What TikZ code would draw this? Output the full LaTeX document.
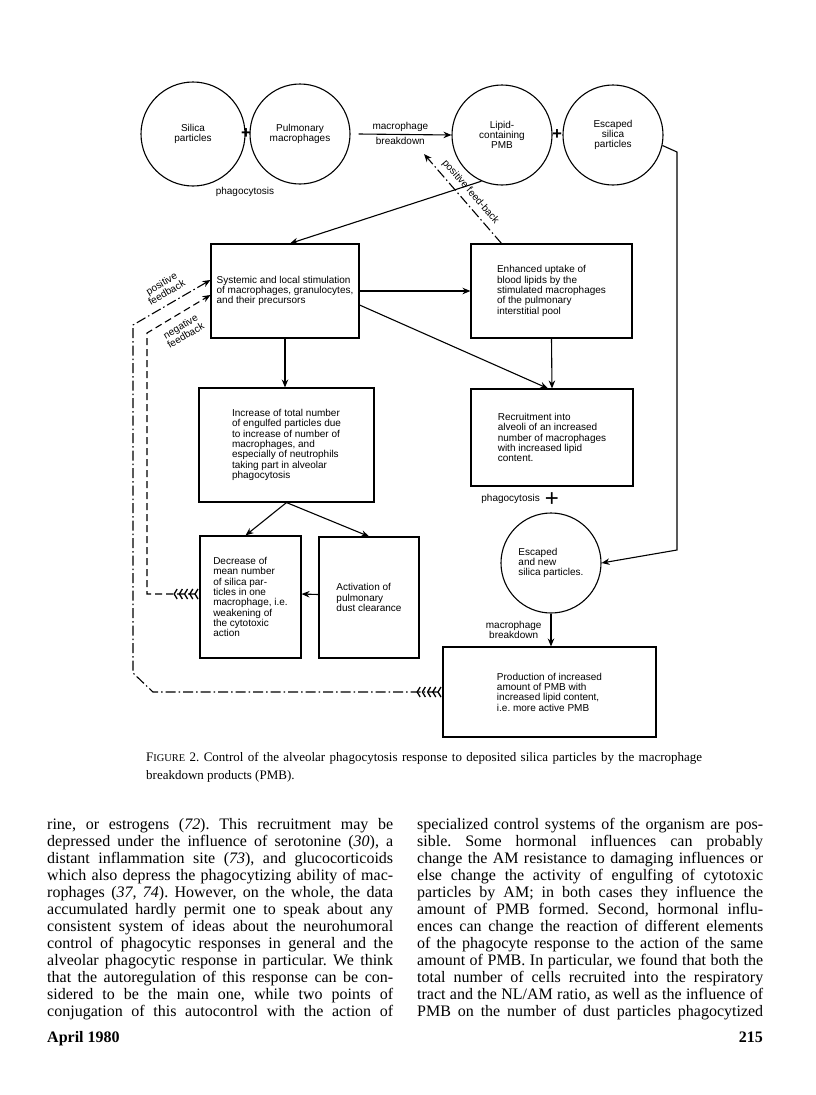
\documentclass[tikz,border=0pt]{standalone}
\usepackage{fontspec}
\setmainfont{Liberation Serif}
\setsansfont{Liberation Sans}
\usetikzlibrary{arrows.meta,positioning,calc}
\newcommand\colline[1]{\hbox to 346pt{#1}}
\frenchspacing

\tikzset{
  diag/.style={font=\sffamily\fontsize{10}{10.3}\selectfont},
  pool/.style={circle, draw, line width=1.1pt, inner sep=0pt, minimum size=100pt, align=center, diag},
  stage/.style={rectangle, draw, line width=1.1pt, inner sep=0pt, align=left, diag},
  flow/.style={line width=1.1pt, -{Stealth[length=8pt,width=6.5pt]}},
  negloop/.style={dash pattern=on 7pt off 4pt},
  posloop/.style={dash pattern=on 10pt off 3pt on 1.5pt off 3pt},
  feathered/.style={arrows={Straight Barb[reversed,length=3pt,width=10pt,sep=0.8pt,line width=1.3pt] Straight Barb[reversed,length=3pt,width=10pt,sep=0.8pt,line width=1.3pt] Straight Barb[reversed,length=3pt,width=10pt,sep=0.8pt,line width=1.3pt] Straight Barb[reversed,length=3pt,width=10pt,sep=0.8pt,line width=1.3pt] Straight Barb[reversed,length=3pt,width=10pt,sep=0.8pt,line width=1.3pt]}-{Stealth[length=8pt,width=6.5pt]}},
  tag/.style={diag, inner sep=1pt, align=center},
  plusmark/.style={font=\sffamily\bfseries\fontsize{17}{17}\selectfont, inner sep=0pt},
  column/.style={anchor=north west, inner sep=0pt, align=left, font=\fontsize{16}{17}\selectfont},
}

\begin{document}
\begin{tikzpicture}[x=1pt,y=-1pt]
\fill[white] (0,0) rectangle (816,1095);
\useasboundingbox (0,0) rectangle (816,1095);

% top row of pools
\node[pool, minimum size=104pt] (silica) at (193,134) {Silica\\particles};
\node[pool] (pulmo) at (300,134) {Pulmonary\\macrophages};
\node[pool] (lipid) at (502,135) {Lipid-\\containing\\PMB};
\node[pool] (escaped) at (613,135) {Escaped\\silica\\particles};
\node[plusmark] (plusA) at (246,134) {+};
\node[plusmark] (plusB) at (557,135) {+};
\node[tag] (phago) at (245,192) {phagocytosis};
\draw[flow] ([xshift=8pt]pulmo.east) -- (lipid.west)
  node[tag, pos=.45, above=1pt] (mbA) {macrophage}
  node[tag, pos=.45, below=1pt] (mbB) {breakdown};

% boxes
\node[stage, minimum width=148pt, minimum height=94pt] (sys) at (285,291) {Systemic and local stimulation\\of macrophages, granulocytes,\\and their precursors};
\node[stage, minimum width=161pt, minimum height=94pt] (uptake) at (551.5,291) {Enhanced uptake of\\blood lipids by the\\stimulated macrophages\\of the pulmonary\\interstitial pool};
\node[stage, minimum width=175pt, minimum height=114pt] (engulf) at (286.5,445) {Increase of total number\\of engulfed particles due\\to increase of number of\\macrophages, and\\especially of neutrophils\\taking part in alveolar\\phagocytosis};
\node[stage, minimum width=162pt, minimum height=97pt] (recruit) at (552,437.5) {Recruitment into\\alveoli of an increased\\number of macrophages\\with increased lipid\\content.};
\node[stage, minimum width=101pt, minimum height=122pt] (decrease) at (250.5,597) {Decrease of\\mean number\\of silica par-\\ticles in one\\macrophage, i.e.\\weakening of\\the cytotoxic\\action};
\node[stage, minimum width=100pt, minimum height=121pt] (clear) at (369,597.5) {Activation of\\pulmonary\\dust clearance};
\node[pool, align=left] (newsil) at (551,563) {Escaped\\and new\\silica particles.};
\node[stage, minimum width=213pt, minimum height=90pt] (product) at (549.5,692) {Production of increased\\amount of PMB with\\increased lipid content,\\i.e. more active PMB};
\node[tag, anchor=east] (phagoB) at (541,499) {phagocytosis};
\node[font=\sffamily\fontsize{24}{24}\selectfont, inner sep=0pt] (plusC) at (552,500) {+};

% arrows
\draw[flow] (lipid.246) -- ([xshift=5pt]sys.north);
\draw[flow] (sys.east) -- (uptake.west);
\draw[flow] ([yshift=-14pt]sys.east) -- ([xshift=-4pt]recruit.north);
\draw[flow] (uptake.south) -- (recruit.north);
\draw[flow] (sys.south) -- (sys.south |- engulf.north);
\draw[flow] (engulf.south) -- ([xshift=-5pt]decrease.north);
\draw[flow] (engulf.south) -- (clear.north);
\draw[flow] ([yshift=3pt]clear.west) -- ([yshift=3pt]decrease.east);
\draw[flow] (newsil.south) -- (newsil.south |- product.north)
  node[tag, pos=.5, left=8pt] (mbC) {macrophage\\breakdown};

\coordinate (bendA) at (677,152);
\coordinate (bendB) at (677,550);
\draw[flow] (escaped.-12) -- (bendA) -- (bendB) -- (newsil.east);

% feedback loops
\coordinate (fbtip) at (424,154);
\draw[flow, posloop] ([xshift=-50pt]uptake.north) -- (fbtip)
  node[tag, pos=.5, rotate=-49, anchor=south, inner sep=5pt] (fbA) {positive feed-back};

\coordinate (negA) at (147,594);
\coordinate (negB) at (147,333);
\draw[flow, negloop, feathered] ([yshift=3pt]decrease.west) -- (negA) -- (negB) -- ([yshift=-4pt]sys.west);

\coordinate (posA) at (153,692);
\coordinate (posB) at (133,673);
\coordinate (posC) at (133,325);
\draw[flow, posloop, feathered] (product.west) -- (posA) -- (posB) -- (posC) -- ([yshift=11pt]sys.west);

\node[tag, rotate=30] (posfb) at (164,288) {positive\\feedback};
\node[tag, rotate=30] (negfb) at (183,331) {negative\\feedback};

% caption
\node[anchor=base west, inner sep=0pt, font=\fontsize{13}{18}\selectfont] (capA) at (146,761)
  {\hbox to 556pt{F{\fontsize{10.4}{10}\selectfont IGURE} 2. Control of the alveolar phagocytosis response to deposited silica particles by the macrophage}};
\node[anchor=base west, inner sep=0pt, font=\fontsize{13}{18}\selectfont] (capB) at (146,779)
  {breakdown products (PMB).};

% text columns
\node[column] (colL) at (47,818) {%
\colline{rine, or estrogens (\textit{72}). This recruitment may be}\\
\colline{depressed under the influence of serotonine (\textit{30}), a}\\
\colline{distant inflammation site (\textit{73}), and glucocorticoids}\\
\colline{which also depress the phagocytizing ability of mac-}\\
\colline{rophages (\textit{37, 74}). However, on the whole, the data}\\
\colline{accumulated hardly permit one to speak about any}\\
\colline{consistent system of ideas about the neurohumoral}\\
\colline{control of phagocytic responses in general and the}\\
\colline{alveolar phagocytic response in particular. We think}\\
\colline{that the autoregulation of this response can be con-}\\
\colline{sidered to be the main one, while two points of}\\
\colline{conjugation of this autocontrol with the action of}};
\node[column] (colR) at (417,818) {%
\colline{specialized control systems of the organism are pos-}\\
\colline{sible. Some hormonal influences can probably}\\
\colline{change the AM resistance to damaging influences or}\\
\colline{else change the activity of engulfing of cytotoxic}\\
\colline{particles by AM; in both cases they influence the}\\
\colline{amount of PMB formed. Second, hormonal influ-}\\
\colline{ences can change the reaction of different elements}\\
\colline{of the phagocyte response to the action of the same}\\
\colline{amount of PMB. In particular, we found that both the}\\
\colline{total number of cells recruited into the respiratory}\\
\colline{tract and the NL/AM ratio, as well as the influence of}\\
\colline{PMB on the number of dust particles phagocytized}};

% footer
\node[anchor=base west, inner sep=0pt, font=\bfseries\fontsize{16}{16}\selectfont] (month) at (47,1042) {April 1980};
\node[anchor=base east, inner sep=0pt, font=\bfseries\fontsize{16}{16}\selectfont] (pageno) at (763,1042) {215};
\end{tikzpicture}
\end{document}
